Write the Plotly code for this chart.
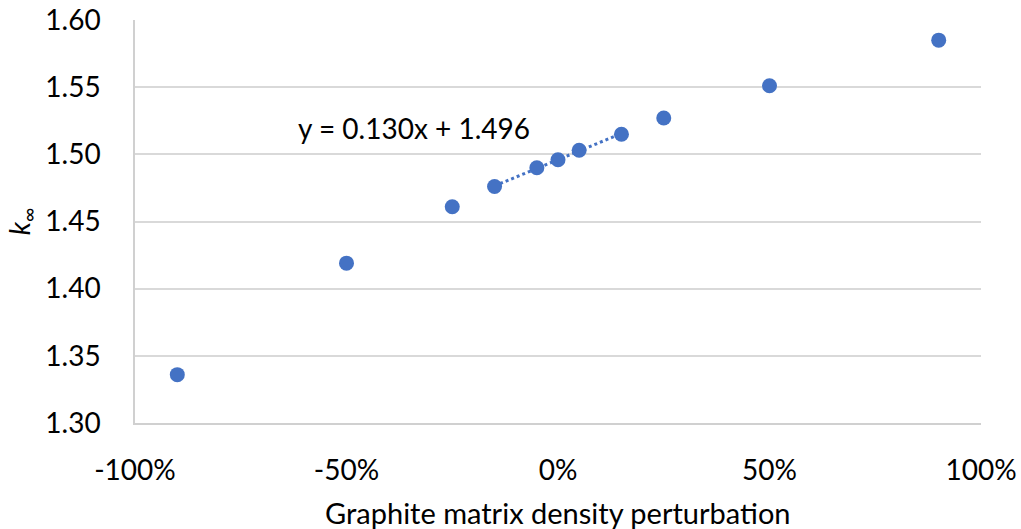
import numpy as np
import plotly.graph_objects as go

perturbation = [-0.90, -0.50, -0.25, -0.15, -0.05, 0.00, 0.05, 0.15, 0.25, 0.50, 0.90]
k_inf = [1.336, 1.419, 1.461, 1.476, 1.490, 1.496, 1.503, 1.515, 1.527, 1.551, 1.585]

fit_range = (-0.15, 0.15)
x_ticks = [-1.0, -0.5, 0.0, 0.5, 1.0]
x_tick_labels = ["-100%", "-50%", "0%", "50%", "100%"]
y_ticks = [1.30, 1.35, 1.40, 1.45, 1.50, 1.55, 1.60]
y_tick_labels = ["1.30", "1.35", "1.40", "1.45", "1.50", "1.55", "1.60"]
equation_text = "y = 0.130x + 1.496"
x_title = "Graphite matrix density perturbation"
y_title = "<i>k</i><sub>∞</sub>"

x = np.array(perturbation)
y = np.array(k_inf)
mask = (x >= fit_range[0]) & (x <= fit_range[1])
slope, intercept = np.polyfit(x[mask], y[mask], 1)
fit_x = np.array(fit_range)
fit_y = slope * fit_x + intercept

FONT = "Lato"
BLUE = "#4472C4"
fig = go.Figure()
fig.add_trace(go.Scatter(x=fit_x, y=fit_y, mode="lines",
                         line=dict(color=BLUE, width=3, dash="dot"),
                         showlegend=False, hoverinfo="skip"))
fig.add_trace(go.Scatter(x=perturbation, y=k_inf, mode="markers",
                         marker=dict(color=BLUE, size=15),
                         showlegend=False))

fig.add_annotation(x=-0.34, y=1.5196, text=equation_text, showarrow=False,
                   xref="x", yref="y", xanchor="center", yanchor="middle",
                   font=dict(family=FONT, size=28, color="#000000"))
fig.add_annotation(x=0.5, y=-0.222, xref="paper", yref="paper", text=x_title,
                   showarrow=False, xanchor="center", yanchor="middle",
                   font=dict(family=FONT, size=29, color="#000000"))
fig.add_annotation(x=-0.135, y=0.5, xref="paper", yref="paper", text=y_title,
                   showarrow=False, textangle=-90, xanchor="center", yanchor="middle",
                   font=dict(family=FONT, size=28, color="#000000"))

fig.update_layout(
    width=1021, height=529,
    margin=dict(l=134.5, r=40, t=20, b=106.3),
    paper_bgcolor="white", plot_bgcolor="white",
    font=dict(family=FONT, size=28, color="#000000"),
    xaxis=dict(range=[-1.0, 1.0], tickvals=x_ticks, ticktext=x_tick_labels,
               showgrid=False, zeroline=False, showline=True, linecolor="#d0d0d0",
               linewidth=1.5, ticks="", ticklen=0, automargin=False,
               ticklabelstandoff=22, tickfont=dict(family=FONT, size=28)),
    yaxis=dict(range=[1.30, 1.60], tickvals=y_ticks, ticktext=y_tick_labels,
               showgrid=True, gridcolor="#d9d9d9", gridwidth=1.5, zeroline=False,
               showline=True, linecolor="#d0d0d0", linewidth=1.5, ticks="",
               automargin=False, ticklabelstandoff=27,
               tickfont=dict(family=FONT, size=28)),
)

fig.write_html("out.html", config={"displayModeBar": False},
               post_script="document.body.style.margin='0';document.body.style.overflow='hidden';")
